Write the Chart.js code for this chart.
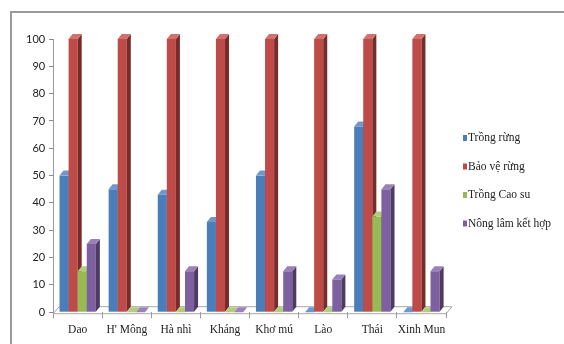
<!DOCTYPE html>
<html>
<head>
<meta charset="utf-8">
<script src="https://cdn.jsdelivr.net/npm/chart.js@4.4.0/dist/chart.umd.min.js"></script>
<style>
  html, body { margin: 0; padding: 0; background: #fff; }
  #wrap { width: 564px; height: 344px; position: relative; }
</style>
</head>
<body>
<div id="wrap"><canvas id="chart" width="564" height="344"></canvas></div>
<script>
// Dữ liệu
const categories = ['Dao', "H' Mông", 'Hà nhì', 'Kháng', 'Khơ mú', 'Lào', 'Thái', 'Xinh Mun'];
const seriesNames = ['Trồng rừng', 'Bảo vệ rừng', 'Trồng Cao su', 'Nông lâm kết hợp'];
const trongRung = [50, 45, 43, 33, 50, 0, 68, 0];
const baoVeRung = [100, 100, 100, 100, 100, 100, 100, 100];
const trongCaoSu = [15, 0, 0, 0, 0, 0, 35, 0];
const nongLamKetHop = [25, 0, 15, 0, 15, 12, 45, 15];
const yTicks = [0, 10, 20, 30, 40, 50, 60, 70, 80, 90, 100];

// màu kiểu Office: mặt trước, mặt bên, mặt trên
const frontColors = ['#4A7EBB', '#BE4B48', '#98B954', '#7D60A0'];
const sideColors = ['#2C4D75', '#772C2A', '#5F7530', '#4D3B62'];
const topColors = ['#6F97CC', '#D2706D', '#B3CE7A', '#9A82B8'];

const serif = "'Liberation Serif', 'DejaVu Serif', serif";
const sans = "Lato, 'Open Sans', sans-serif";

// vẽ cột giả 3D (mặt trước + mặt bên + mặt trên) theo thứ tự trái -> phải
const bars3d = {
    id: 'bars3d',
    beforeDraw(chart) {
        const ctx = chart.ctx;
        ctx.save();
        ctx.strokeStyle = '#9a9a9a';
        ctx.lineWidth = 2;
        ctx.strokeRect(11, 12, 600, 400);
        ctx.restore();
    },
    beforeDatasetsDraw(chart) {
        const ctx = chart.ctx;
        const area = chart.chartArea;
        const y0 = chart.scales.y.getPixelForValue(0);
        const dx = 4, dy = 5;

        ctx.save();
        // sàn
        ctx.strokeStyle = '#a8a8a8';
        ctx.lineWidth = 1;
        ctx.beginPath();
        ctx.moveTo(area.left, y0 + 1.5);
        ctx.lineTo(area.right, y0 + 1.5);
        ctx.lineTo(area.right + 6, y0 - 5.5);
        ctx.lineTo(area.left + 6, y0 - 5.5);
        ctx.closePath();
        ctx.stroke();

        const metas = chart.data.datasets.map((d, i) => chart.getDatasetMeta(i));
        for (let j = 0; j < categories.length; j++) {
            metas.forEach((meta, i) => {
                const el = meta.data[j];
                const p = el.getProps(['x', 'y', 'base', 'width'], true);
                const l = p.x - p.width / 2, r = p.x + p.width / 2;
                ctx.fillStyle = frontColors[i];
                ctx.fillRect(l, p.y, p.width, p.base - p.y);
                ctx.fillStyle = sideColors[i];
                ctx.beginPath();
                ctx.moveTo(r, p.base);
                ctx.lineTo(r, p.y);
                ctx.lineTo(r + dx, p.y - dy);
                ctx.lineTo(r + dx, p.base - dy);
                ctx.closePath();
                ctx.fill();
                ctx.fillStyle = topColors[i];
                ctx.beginPath();
                ctx.moveTo(l, p.y);
                ctx.lineTo(l + dx, p.y - dy);
                ctx.lineTo(r + dx, p.y - dy);
                ctx.lineTo(r, p.y);
                ctx.closePath();
                ctx.fill();
            });
        }
        ctx.restore();
        return false;
    },
    // chú giải bên phải
    afterDraw(chart) {
        const ctx = chart.ctx;
        const x = chart.chartArea.right + 17;
        const startY = 138, step = 28.5;
        ctx.save();
        ctx.font = '11.5px ' + serif;
        ctx.textBaseline = 'middle';
        chart.data.datasets.forEach((ds, i) => {
            const y = startY + i * step;
            ctx.fillStyle = frontColors[i];
            ctx.fillRect(x, y - 3, 4, 6);
            ctx.fillStyle = '#222';
            ctx.fillText(ds.label, x + 5, y);
        });
        ctx.restore();
    }
};

const seriesData = [trongRung, baoVeRung, trongCaoSu, nongLamKetHop];

new Chart(document.getElementById('chart'), {
    type: 'bar',
    data: {
        labels: categories,
        datasets: seriesNames.map((name, i) => ({
            label: name,
            data: seriesData[i],
            backgroundColor: frontColors[i],
            borderWidth: 0,
            categoryPercentage: 0.74,
            barPercentage: 1.0
        }))
    },
    options: {
        responsive: false,
        animation: false,
        devicePixelRatio: 1,
        layout: { padding: { left: 22, right: 118, top: 39, bottom: 2 } },
        plugins: {
            tooltip: { enabled: false },
            legend: { display: false }
        },
        scales: {
            x: {
                grid: { display: true, drawOnChartArea: false, offset: true, tickLength: 6, color: '#999' },
                border: { display: false },
                ticks: { color: '#222', font: { family: serif, size: 11.5 }, padding: 5, maxRotation: 0, autoSkip: false }
            },
            y: {
                min: 0,
                max: 100,
                afterBuildTicks: (scale) => { scale.ticks = yTicks.map(v => ({ value: v })); },
                grid: { display: true, drawOnChartArea: false, tickLength: 4, color: '#888' },
                border: { display: true, color: '#999' },
                ticks: { color: '#222', font: { family: sans, size: 11 }, padding: 4 }
            }
        }
    },
    plugins: [bars3d]
});
</script>
</body>
</html>
